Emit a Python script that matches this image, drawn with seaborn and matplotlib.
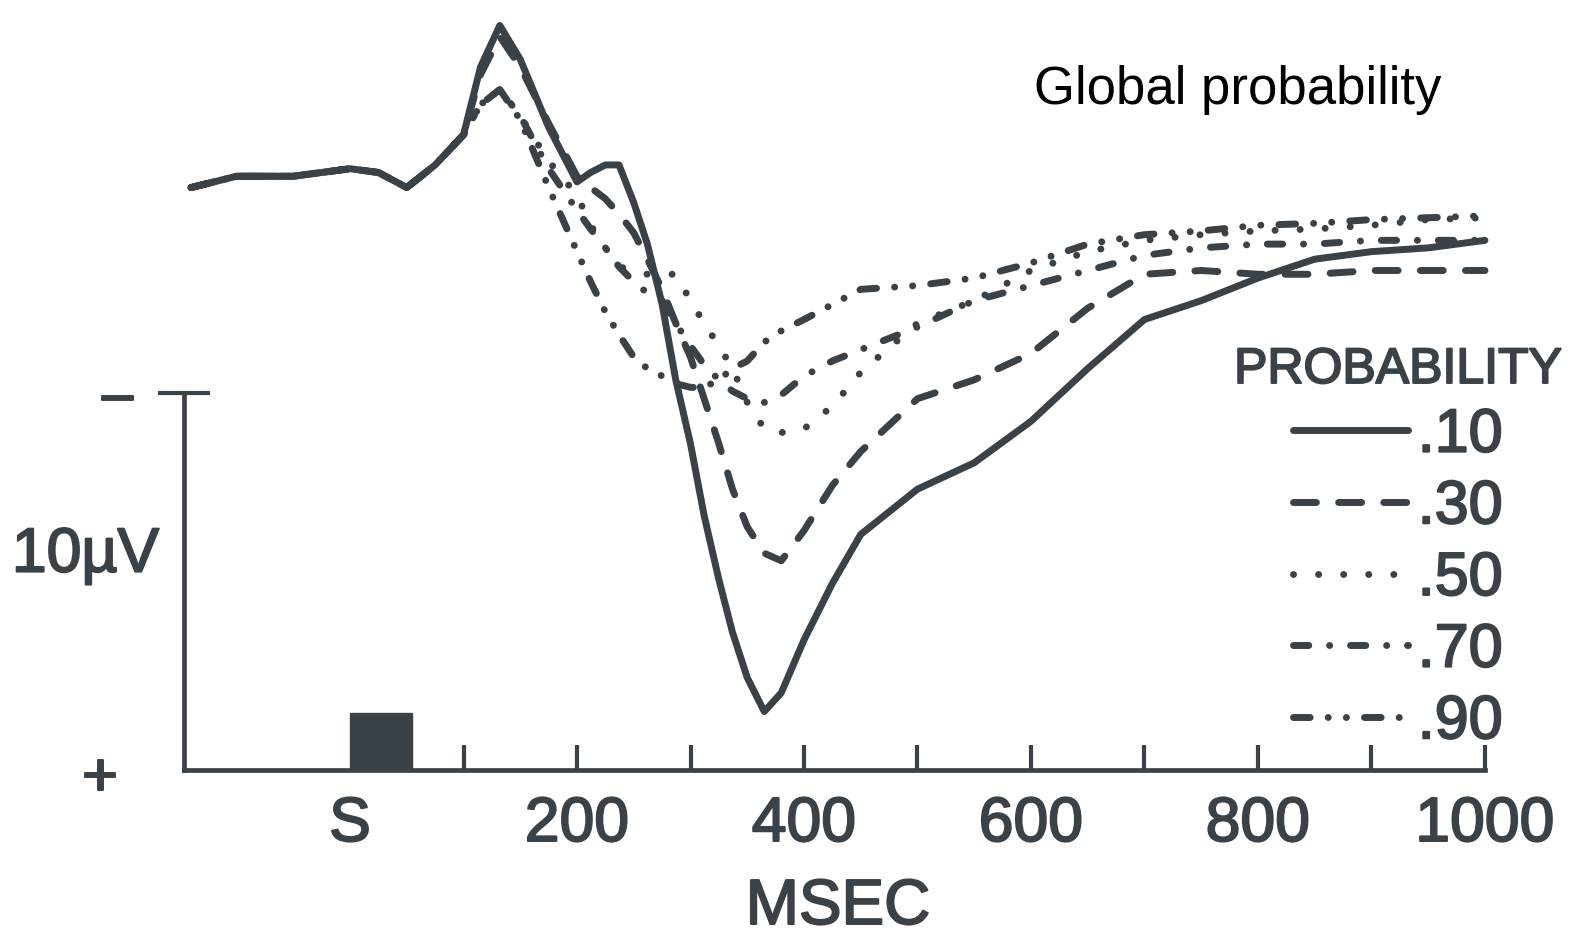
import numpy as np
import pandas as pd
import matplotlib
matplotlib.use("Agg")
import matplotlib.pyplot as plt
import matplotlib.patheffects as pe
from matplotlib.lines import Line2D
import seaborn as sns

# ---- data (time in ms, amplitude in microvolts; negative plotted up) ----
time_ms = [-140, -100, -50, 0, 25, 50, 75, 100, 115, 132, 150, 175, 200, 212, 225, 237,
           250, 262, 275, 287, 300, 312, 325, 337, 350, 365, 380, 400, 425, 450, 500,
           550, 600, 650, 700, 750, 800, 850, 900, 950, 1000]
p10 = [0.2, -0.1, -0.1, -0.3, -0.2, 0.2, -0.4, -1.2, -3.0, -4.1, -3.2, -1.4, 0.05, -0.2, -0.4, -0.4,
       0.6, 1.7, 3.3, 5.3, 7.0, 8.9, 10.6, 12.0, 13.2, 14.1, 13.6, 12.2, 10.7, 9.4, 8.2,
       7.5, 6.4, 5.0, 3.7, 3.2, 2.6, 2.1, 1.9, 1.8, 1.6]
p30 = [0.2, -0.1, -0.1, -0.3, -0.2, 0.2, -0.4, -1.2, -2.8, -3.8, -3.0, -1.5, -0.1, 0.2, 0.5, 0.9,
       1.4, 2.1, 2.9, 3.8, 4.7, 5.8, 7.0, 8.2, 9.2, 9.9, 10.1, 9.3, 8.1, 7.2, 5.8,
       5.3, 4.6, 3.4, 2.5, 2.4, 2.5, 2.5, 2.4, 2.4, 2.4]
p50 = [0.2, -0.1, -0.1, -0.3, -0.2, 0.2, -0.4, -1.2, -2.0, -2.4, -1.7, -0.5, 0.4, 1.2, 1.8, 2.3,
       2.4, 2.5, 2.5, 2.5, 3.2, 3.8, 4.4, 5.0, 5.9, 6.6, 6.7, 6.6, 6.0, 5.1, 3.8,
       3.2, 2.4, 1.9, 1.6, 1.45, 1.35, 1.3, 1.2, 1.05, 1.0]
p70 = [0.2, -0.1, -0.1, -0.3, -0.2, 0.2, -0.4, -1.2, -2.0, -2.4, -1.7, -0.3, 0.8, 1.3, 1.8, 2.3,
       2.7, 3.0, 3.2, 3.8, 4.4, 4.9, 5.3, 5.6, 5.8, 5.9, 5.7, 5.2, 4.8, 4.5, 3.9,
       3.2, 2.8, 2.4, 2.0, 1.8, 1.7, 1.7, 1.6, 1.6, 1.6]
p90 = [0.2, -0.1, -0.1, -0.3, -0.2, 0.2, -0.4, -1.2, -2.0, -2.4, -1.6, 0.2, 1.9, 2.7, 3.5, 4.1,
       4.7, 5.0, 5.2, 5.4, 5.5, 5.5, 5.3, 5.0, 4.8, 4.3, 4.0, 3.7, 3.3, 2.9, 2.8,
       2.6, 2.2, 1.7, 1.45, 1.35, 1.2, 1.15, 1.05, 1.0, 0.95]
prob_labels = [".10", ".30", ".50", ".70", ".90"]
x_ticks = [0, 200, 400, 600, 800, 1000]
x_tick_labels = ["S", "200", "400", "600", "800", "1000"]
x_minor_ticks = [100, 300, 500, 700, 900]
stim_ms = [0, 55]          # stimulus bar onset / offset
scale_uv = [5.65, 15.65]   # 10 uV calibration bar

# ---- style ----
INK = "#3b4247"
sns.set_theme(style="white")
plt.rcParams["font.family"] = ["Liberation Sans", "DejaVu Sans"]
THICK = [pe.withStroke(linewidth=1.4, foreground=INK)]

series = [p10, p30, p50, p70, p90]
df = pd.DataFrame({
    "ms": np.tile(time_ms, len(series)),
    "uV": np.concatenate(series),
    "prob": np.repeat(prob_labels, len(time_ms)),
})
dash_map = {".10": "", ".30": (3.3, 3.2), ".50": (0.01, 3.6),
            ".70": (2.2, 3.0, 0.01, 3.0), ".90": (2.4, 2.6, 0.01, 2.6, 0.01, 2.6)}
LW = 5.0

fig = plt.figure(figsize=(15.76, 9.44), dpi=100)
ax = fig.add_axes([0, 0, 1, 1])
ax.set_facecolor("white")

sns.lineplot(data=df, x="ms", y="uV", style="prob", dashes=dash_map, color=INK,
             linewidth=LW, legend=False, ax=ax, estimator=None,
             dash_capstyle="round", solid_capstyle="round", solid_joinstyle="round",
             dash_joinstyle="round")
for ln in ax.lines:
    ln.set_linewidth(LW)

# stimulus bar
ax.bar([stim_ms[0]], [1.5], width=stim_ms[1] - stim_ms[0], bottom=scale_uv[1] - 1.5,
       align="edge", color=INK, edgecolor=INK, zorder=3)

# coordinate frame: x px = 350 + 1.135*ms, y px = 180 + 37.7*uV
ax.set_xlim(-308.4, 1080.2)
ax.set_ylim(20.265, -4.775)

for s in ["top", "right"]:
    ax.spines[s].set_visible(False)
ax.spines["bottom"].set_position(("data", scale_uv[1]))
ax.spines["bottom"].set_bounds(-146, 1000)
ax.spines["left"].set_position(("data", -146))
ax.spines["left"].set_bounds(scale_uv[0], scale_uv[1])
for s in ["bottom", "left"]:
    ax.spines[s].set_color(INK)
    ax.spines[s].set_linewidth(3.4)
    ax.spines[s].set_visible(True)

ax.set_xticks(x_ticks)
ax.set_xticklabels(x_tick_labels)
ax.set_xticks(x_minor_ticks, minor=True)
ax.tick_params(axis="x", which="both", direction="in", length=18, width=3,
               color=INK, bottom=True)
ax.tick_params(axis="x", which="major", labelsize=45, labelcolor=INK, pad=18)
ax.xaxis.get_major_ticks()[0].tick1line.set_visible(False)
for lab in ax.get_xticklabels():
    lab.set_path_effects(THICK)
ax.set_yticks([scale_uv[0]])
ax.set_yticklabels([""])
ax.tick_params(axis="y", direction="inout", length=38, width=3, color=INK, left=True)
ax.set_xlabel("")
ax.set_ylabel("")
ax.grid(False)

# axis annotations
ax.text(-205, 5.9, "\u2212", ha="center", va="center", fontsize=45, color=INK,
        path_effects=THICK)
ax.text(-220, 15.9, "+", ha="center", va="center", fontsize=45, color=INK,
        path_effects=THICK)
ax.text(-233, 9.95, "10\u00b5V", ha="center", va="center", fontsize=45, color=INK,
        path_effects=THICK)
fig.text(838 / 1576, 1 - 907 / 944, "MSEC", ha="center", va="center", fontsize=46,
         color=INK, path_effects=THICK)
fig.text(1238 / 1576, 1 - 90 / 944, "Global probability", ha="center", va="center",
         fontsize=38, color="black")

# legend
handles = []
for p in prob_labels:
    if dash_map[p]:
        h = Line2D([0], [0], color=INK, lw=LW, dashes=dash_map[p], dash_capstyle="round")
    else:
        h = Line2D([0], [0], color=INK, lw=LW, solid_capstyle="round")
    handles.append(h)
leg = ax.legend(handles, prob_labels, title="PROBABILITY", frameon=False,
                loc="upper center", bbox_to_anchor=(1398 / 1576, 1 - 347 / 944),
                bbox_transform=fig.transFigure, fontsize=44, title_fontsize=36,
                handlelength=1.88, handletextpad=0.16, labelspacing=0.24,
                borderpad=0, borderaxespad=0)
for t in leg.get_texts():
    t.set_color(INK)
    t.set_path_effects(THICK)
leg.get_title().set_color(INK)
leg.get_title().set_path_effects(THICK)

fig.savefig("out.png", dpi=100, facecolor="white")
